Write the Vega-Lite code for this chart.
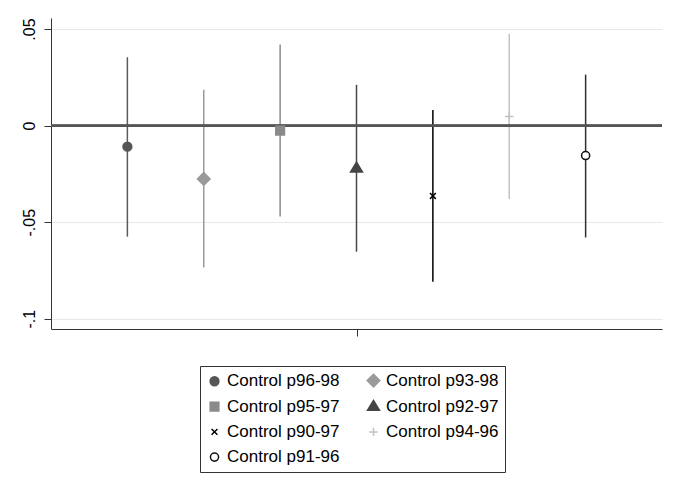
{
  "$schema": "https://vega.github.io/schema/vega-lite/v6.json",
  "width": 611,
  "height": 311,
  "autosize": {"type": "none"},
  "padding": {"left": 51, "top": 18, "right": 18, "bottom": 166},
  "data": {
    "values": [
      {"series": "Control p96-98", "pos": -3, "est": -0.0109, "lo": -0.0575, "hi": 0.0354},
      {"series": "Control p93-98", "pos": -2, "est": -0.0276, "lo": -0.0734, "hi": 0.0185},
      {"series": "Control p95-97", "pos": -1, "est": -0.0026, "lo": -0.047, "hi": 0.042},
      {"series": "Control p92-97", "pos": 0, "est": -0.0222, "lo": -0.0653, "hi": 0.0211},
      {"series": "Control p90-97", "pos": 1, "est": -0.0364, "lo": -0.0808, "hi": 0.0081},
      {"series": "Control p94-96", "pos": 2, "est": 0.0047, "lo": -0.038, "hi": 0.0475},
      {"series": "Control p91-96", "pos": 3, "est": -0.0155, "lo": -0.0579, "hi": 0.0264}
    ]
  },
  "layer": [
    {
      "mark": {"type": "rule", "strokeWidth": 1.5},
      "encoding": {
        "x": {
          "field": "pos",
          "type": "quantitative",
          "scale": {"domain": [-4, 4], "nice": false, "zero": false},
          "axis": {"title": null, "values": [0], "labels": false, "grid": false, "tickSize": 7}
        },
        "y": {
          "field": "lo",
          "type": "quantitative",
          "scale": {"domain": [-0.1053, 0.0557], "nice": false, "zero": false},
          "axis": {
            "title": null,
            "values": [-0.1, -0.05, 0, 0.05],
            "labelExpr": "datum.value === 0 ? '0' : datum.value > 0.04 ? '.05' : datum.value > -0.06 ? '-.05' : '-.1'",
            "labelAngle": -90,
            "labelAlign": "center",
            "labelBaseline": "bottom",
            "labelPadding": 7,
            "tickSize": 7,
            "grid": true,
            "gridColor": "#e8e8e8",
            "gridWidth": 1.2
          }
        },
        "y2": {"field": "hi"},
        "color": {
          "field": "pos",
          "type": "ordinal",
          "legend": null,
          "scale": {
            "domain": [-3, -2, -1, 0, 1, 2, 3],
            "range": ["#5b5b5b", "#9a9a9a", "#8c8c8c", "#474747", "#000000", "#c2c2c2", "#2e2e2e"]
          }
        }
      }
    },
    {
      "mark": {"type": "rule", "color": "#555555", "strokeWidth": 1.6},
      "encoding": {
        "y": {"datum": 0, "type": "quantitative"}
      }
    },
    {
      "mark": {"type": "point", "opacity": 1, "strokeWidth": 1.5, "size": 196},
      "encoding": {
        "x": {"field": "pos", "type": "quantitative"},
        "y": {"field": "est", "type": "quantitative"},
        "shape": {
          "field": "series",
          "type": "nominal",
          "legend": {
            "title": null,
            "orient": "none",
            "legendX": 149,
            "legendY": 348,
            "columns": 2,
            "direction": "vertical"
          },
          "scale": {
            "domain": ["Control p96-98", "Control p95-97", "Control p90-97", "Control p91-96", "Control p93-98", "Control p92-97", "Control p94-96"],
            "range": [
              "M0.63,0A0.63,0.63 0 1,1 -0.63,0A0.63,0.63 0 1,1 0.63,0Z",
              "M-0.62,-0.62L0.62,-0.62L0.62,0.62L-0.62,0.62Z",
              "M-0.42,-0.42L0.42,0.42M0.42,-0.42L-0.42,0.42",
              "M0.58,0A0.58,0.58 0 1,1 -0.58,0A0.58,0.58 0 1,1 0.58,0Z",
              "M0,-0.9L0.9,0L0,0.9L-0.9,0Z",
              "M0,-0.9L0.85,0.5L-0.85,0.5Z",
              "M-0.6,0L0.6,0M0,-0.6L0,0.6"
            ]
          }
        },
        "fill": {
          "field": "series",
          "type": "nominal",
          "scale": {
            "domain": ["Control p96-98", "Control p95-97", "Control p90-97", "Control p91-96", "Control p93-98", "Control p92-97", "Control p94-96"],
            "range": ["#555555", "#8a8a8a", "transparent", "#ffffff", "#9a9a9a", "#444444", "transparent"]
          }
        },
        "stroke": {
          "field": "series",
          "type": "nominal",
          "scale": {
            "domain": ["Control p96-98", "Control p95-97", "Control p90-97", "Control p91-96", "Control p93-98", "Control p92-97", "Control p94-96"],
            "range": ["#555555", "#8a8a8a", "#000000", "#111111", "#9a9a9a", "#444444", "#c2c2c2"]
          }
        }
      }
    }
  ],
  "config": {
    "view": {"stroke": null},
    "axis": {
      "domainColor": "#333333",
      "tickColor": "#333333",
      "domainWidth": 1,
      "tickWidth": 1,
      "labelFont": "Liberation Sans",
      "labelFontSize": 16,
      "labelColor": "#000000"
    },
    "legend": {
      "strokeColor": "#333333",
      "fillColor": "#ffffff",
      "padding": 6,
      "columnPadding": 24,
      "rowPadding": 7.2,
      "labelOffset": 4,
      "labelFont": "Liberation Sans",
      "labelFontSize": 17,
      "labelColor": "#000000",
      "symbolStrokeWidth": 1.5,
      "symbolSize": 196
    }
  }
}
